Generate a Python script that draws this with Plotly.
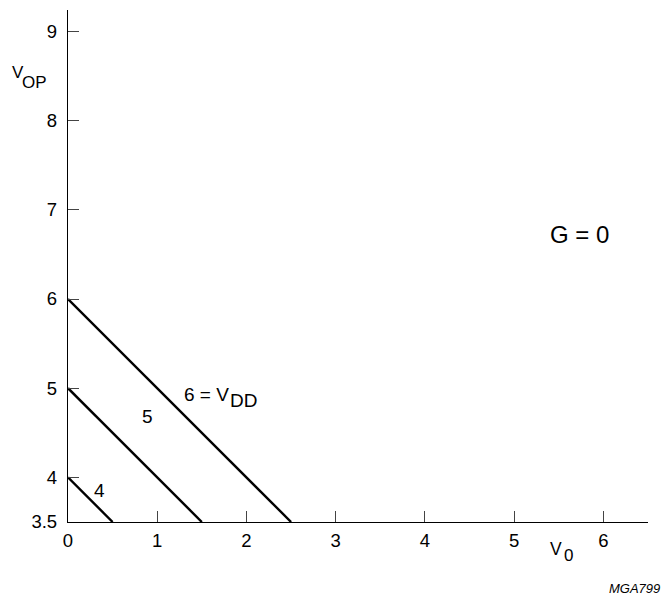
import plotly.graph_objects as go

# Data
vdd_values = [6, 5, 4]
v0_start = [0, 0, 0]
v0_end = [2.5, 1.5, 0.5]
vop_start = [6, 5, 4]
vop_end = [3.5, 3.5, 3.5]

x_ticks = [0, 1, 2, 3, 4, 5, 6]
y_ticks = [3.5, 4, 5, 6, 7, 8, 9]
y_tick_text = ["3.5", "4", "5", "6", "7", "8", "9"]

FONT = "Liberation Sans, Arial, sans-serif"

W, H = 662, 598

fig = go.Figure()
for i, v in enumerate(vdd_values):
    fig.add_trace(go.Scatter(
        x=[v0_start[i], v0_end[i]], y=[vop_start[i], vop_end[i]],
        mode="lines", line=dict(color="black", width=2.4),
        cliponaxis=False, showlegend=False, hoverinfo="skip"))

# plot area in page pixels
L, R, T, B = 68, 648, 10, 522
XR = (0, 6.5)
YR = (3.5, 9.24)

def px2p(px):
    return (px - L) / (R - L)

def py2p(py):
    return (B - py) / (B - T)

annots = []

def txt(text, px, py, size, xanchor="left", italic=False):
    annots.append(dict(
        x=px2p(px), y=py2p(py), xref="paper", yref="paper", text=text,
        showarrow=False, xanchor=xanchor, yanchor="middle",
        font=dict(family=FONT, size=size, color="black",
                  style="italic" if italic else "normal"),
        borderpad=0))

# axis titles
txt("V", 11, 72, 17)
txt("OP", 21, 82, 17)
txt("V", 549, 549, 17.5)
txt("0", 563, 555, 17)

# curve labels
txt("4", 99, 490, 19, xanchor="center")
txt("5", 147, 416, 19, xanchor="center")
txt("6 = V", 183, 394, 19)
txt("DD", 229, 400, 19)

txt("G = 0", 579, 234, 24, xanchor="center")
txt("MGA799", 661, 588, 13, xanchor="right", italic=True)

fig.update_layout(
    width=W, height=H,
    margin=dict(l=L, r=W - R, t=T, b=H - B),
    paper_bgcolor="white", plot_bgcolor="white",
    annotations=annots,
    xaxis=dict(range=list(XR), tickvals=x_ticks, ticks="inside", ticklen=11,
               tickwidth=1, tickcolor="#444", showline=True, linecolor="black",
               linewidth=1.3, showgrid=False, zeroline=False,
               tickfont=dict(family=FONT, size=18.5, color="black"),
               ticklabelstandoff=2),
    yaxis=dict(range=list(YR), tickvals=y_ticks, ticktext=y_tick_text,
               ticks="inside", ticklen=11, tickwidth=1, tickcolor="#444",
               showline=True, linecolor="black", linewidth=1.3,
               showgrid=False, zeroline=False,
               tickfont=dict(family=FONT, size=18.5, color="black"),
               ticklabelstandoff=6),
)

fig.write_html("out.html",
               config={"displayModeBar": False},
               post_script="document.body.style.margin='0';document.body.style.overflow='hidden';")
